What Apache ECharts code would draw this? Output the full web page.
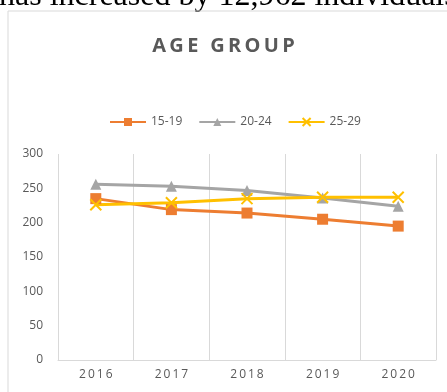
<!DOCTYPE html>
<html><head><meta charset="utf-8">
<script src="https://cdn.jsdelivr.net/npm/echarts@6/dist/echarts.min.js"></script>
<style>html,body{margin:0;padding:0;background:#fff}#c{width:447px;height:392px}</style>
</head><body><div id="c"></div>
<script>
const years = ['2016','2017','2018','2019','2020'];
const s1519 = [235, 219, 214, 205, 195];
const s2024 = [256, 253, 247, 236, 224];
const s2529 = [226, 229, 235, 237, 237];
const yTicks = {min: 0, max: 300, interval: 50};
const titleText = 'AGE GROUP';
const topText = 'has increased by 12,962 individuals';

const spaced = s => s.split('').join('\u2009');
const chart = echarts.init(document.getElementById('c'), null, {renderer: 'canvas'});
const xMark = 'path://M0,0L10,10M10,0L0,10';
chart.setOption({
  animation: false,
  backgroundColor: '#fff',
  graphic: [
    {type: 'text', left: -1, top: -19, style: {text: topText, font: '32px "Liberation Serif"', fill: '#000'}},
    {type: 'rect', shape: {x: 8, y: 11, width: 460, height: 400}, style: {fill: 'none', stroke: '#d9d9d9', lineWidth: 1}}
  ],
  title: {
    text: spaced(titleText),
    left: 'center', top: 31,
    textStyle: {fontFamily: '"Open Sans"', fontWeight: 'bold', fontSize: 20, color: '#595959'}
  },
  legend: {
    top: 111, left: 104, itemWidth: 36, itemHeight: 10, itemGap: 16,
    textStyle: {fontFamily: '"Open Sans"', fontSize: 12, color: '#595959'},
    data: ['15-19', '20-24', '25-29']
  },
  grid: {left: 58, right: 11, top: 154, bottom: 32},
  xAxis: {
    type: 'category', data: years, boundaryGap: true,
    axisLine: {lineStyle: {color: '#d9d9d9'}},
    axisTick: {show: false},
    splitLine: {show: true, lineStyle: {color: '#d9d9d9', width: 1}},
    axisLabel: {formatter: v => spaced(v), fontFamily: '"Open Sans"', fontSize: 12, color: '#595959', margin: 9}
  },
  yAxis: {
    type: 'value', min: yTicks.min, max: yTicks.max, interval: yTicks.interval,
    axisLine: {show: false}, axisTick: {show: false},
    splitLine: {show: false},
    axisLabel: {fontFamily: '"Open Sans"', fontSize: 12, color: '#595959', margin: 15}
  },
  series: [
    {name: '15-19', type: 'line', data: s1519, symbol: 'rect', symbolSize: 11,
     lineStyle: {color: '#ED7D31', width: 3}, itemStyle: {color: '#ED7D31'}},
    {name: '20-24', type: 'line', data: s2024, symbol: 'triangle', symbolSize: 11,
     lineStyle: {color: '#A5A5A5', width: 3}, itemStyle: {color: '#A5A5A5'}},
    {name: '25-29', type: 'line', data: s2529, symbol: xMark, symbolSize: 11,
     lineStyle: {color: '#FFC000', width: 3}, itemStyle: {color: '#FFC000', borderColor: '#FFC000', borderWidth: 2}}
  ]
});
</script></body></html>
